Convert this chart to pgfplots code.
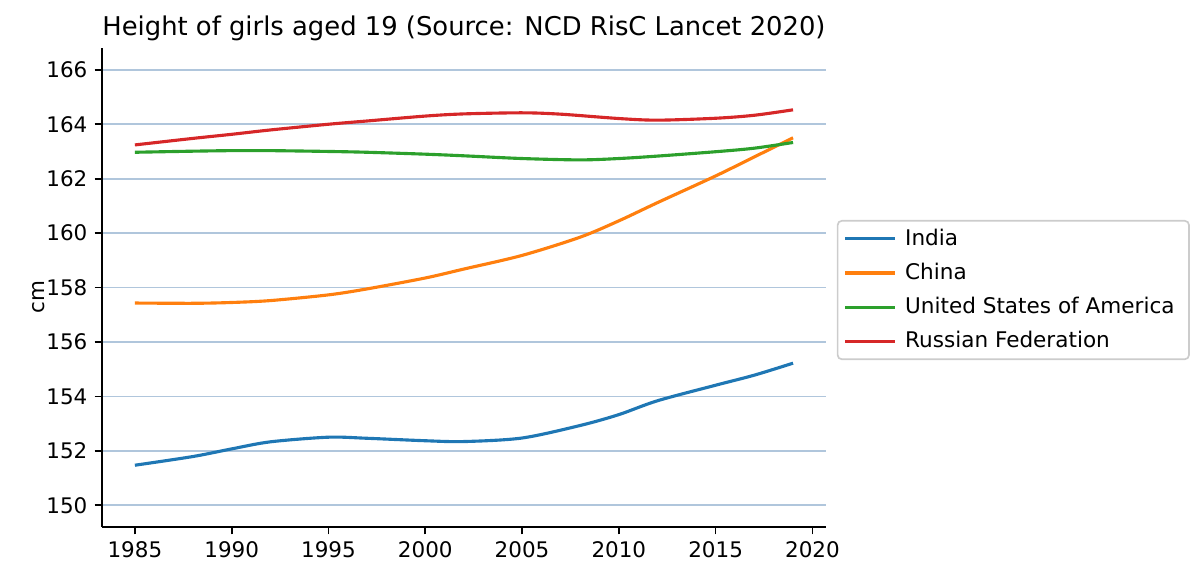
\documentclass[border=0pt]{standalone}
\usepackage{fontspec}
\setmainfont{DejaVu Sans}
\usepackage{pgfplots}
\pgfplotsset{compat=1.18}

\definecolor{tabblue}{HTML}{1F77B4}
\definecolor{taborange}{HTML}{FF7F0E}
\definecolor{tabgreen}{HTML}{2CA02C}
\definecolor{tabred}{HTML}{D62728}
\definecolor{gridblue}{RGB}{176,198,220}

\begin{document}
\begin{tikzpicture}
\useasboundingbox (-48.96pt,-25.92pt) rectangle (527.04pt,252.96pt);
\begin{axis}[
    scale only axis,
    width=347.5pt, height=229.9pt,
    xmin=1983.3, xmax=2020.7,
    ymin=149.2, ymax=166.8,
    xtick={1985,1990,...,2020},
    ytick={150,152,...,166},
    /pgf/number format/.cd, 1000 sep={}, assume math mode=true,
    /pgfplots/.cd,
    axis x line*=bottom, axis y line*=left,
    axis line style={line width=0.8pt, -},
    tick style={black, line width=0.8pt},
    tick align=outside,
    major tick length=3.5pt,
    ymajorgrids,
    major grid style={gridblue, line width=0.8pt},
    ticklabel style={font=\fontsize{10.3}{12}\selectfont},
    ylabel={cm},
    ylabel style={font=\fontsize{10.3}{12}\selectfont, at={(axis description cs:-0.088,0.48)}, anchor=center},
    title={Height of girls aged 19 (Source: NCD RisC Lancet 2020)},
    title style={font=\fontsize{12.4}{14}\selectfont, at={(0.5,1)}, anchor=south, yshift=-6pt},
    legend style={at={(1.015,0.641)}, anchor=north west,
        draw=black!20, rounded corners=2pt, line width=0.8pt,
        font=\fontsize{10.35}{12}\selectfont, row sep=3pt,
        nodes={inner xsep=3.9pt}},
    legend cell align=left,
    legend image code/.code={\draw[#1, line width=1.5pt] (0pt,0pt) -- (24pt,0pt);},
]
\addplot[tabblue, line width=1.5pt, smooth] coordinates {
    (1985,151.47) (1988,151.79) (1990,152.07) (1992,152.33) (1995,152.50)
    (1997,152.46) (2000,152.37) (2002,152.34) (2005,152.47) (2008,152.93)
    (2010,153.33) (2012,153.84) (2015,154.41) (2017,154.78) (2019,155.22)
};
\addlegendentry{India}
\addplot[taborange, line width=1.5pt, smooth] coordinates {
    (1985,157.43) (1988,157.42) (1990,157.45) (1992,157.52) (1995,157.73)
    (1997,157.95) (2000,158.35) (2002,158.68) (2005,159.18) (2008,159.85)
    (2010,160.45) (2012,161.12) (2015,162.10) (2017,162.80) (2019,163.50)
};
\addlegendentry{China}
\addplot[tabgreen, line width=1.5pt, smooth] coordinates {
    (1985,162.97) (1988,163.01) (1990,163.03) (1992,163.03) (1995,163.00)
    (1997,162.97) (2000,162.90) (2002,162.84) (2005,162.74) (2008,162.69)
    (2010,162.74) (2012,162.83) (2015,162.99) (2017,163.12) (2019,163.33)
};
\addlegendentry{United States of America}
\addplot[tabred, line width=1.5pt, smooth] coordinates {
    (1985,163.24) (1988,163.48) (1990,163.63) (1992,163.79) (1995,164.00)
    (1997,164.12) (2000,164.30) (2002,164.38) (2005,164.42) (2007,164.37)
    (2010,164.21) (2012,164.15) (2015,164.22) (2017,164.33) (2019,164.53)
};
\addlegendentry{Russian Federation}
\end{axis}
\end{tikzpicture}
\end{document}
